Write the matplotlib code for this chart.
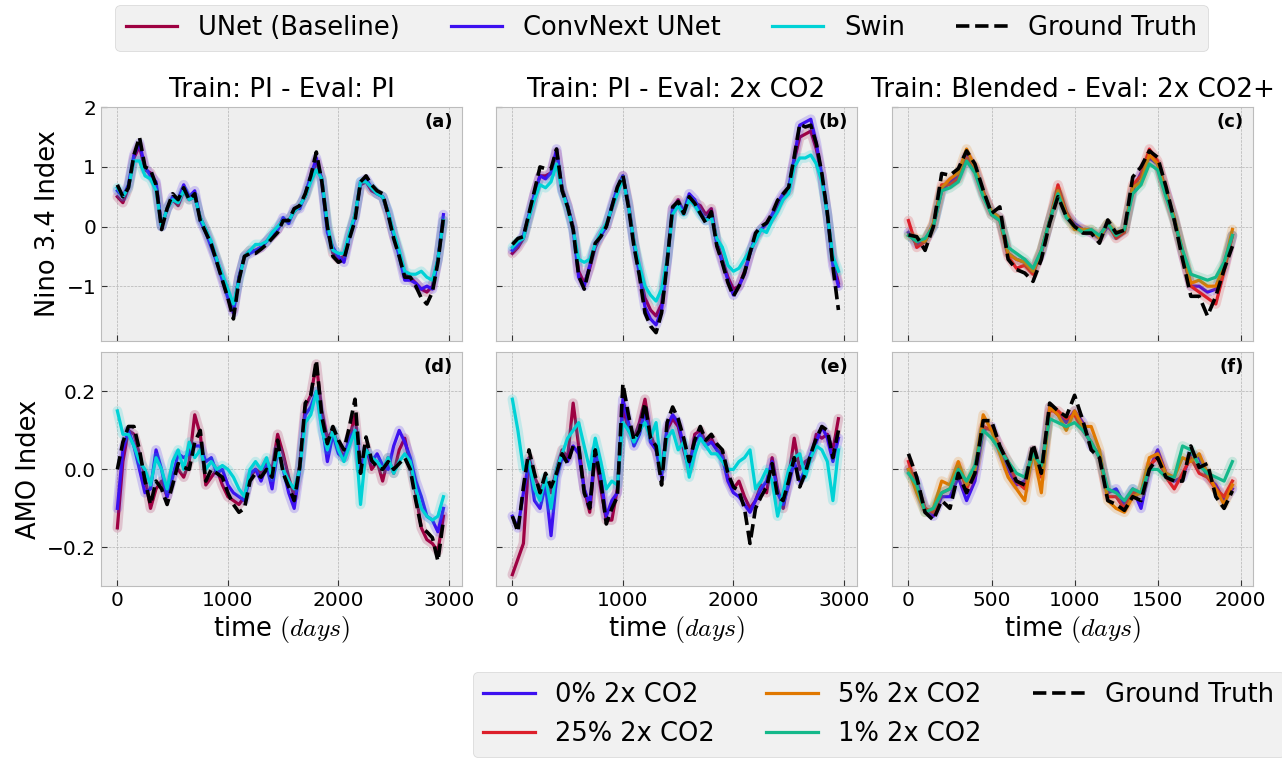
import numpy as np
import matplotlib.pyplot as plt
from matplotlib.lines import Line2D

plt.style.use('bmh')

# time axis (days)
t_pi = np.arange(0, 3000, 50)
t_bl = np.arange(0, 2000, 50)

# ---- Nino 3.4, Train PI / Eval PI (a)
gt_a = [0.70, 0.50, 0.65, 1.20, 1.50, 1.00, 0.95, 0.70, -0.05, 0.30,
        0.55, 0.45, 0.65, 0.45, 0.55, 0.10, -0.10, -0.30, -0.60, -0.90,
        -1.20, -1.55, -0.90, -0.50, -0.45, -0.45, -0.38, -0.30, -0.20, -0.10,
        0.10, 0.10, 0.30, 0.35, 0.55, 0.85, 1.25, 0.75, 0.00, -0.50,
        -0.60, -0.55, -0.20, 0.10, 0.75, 0.85, 0.70, 0.60, 0.55, 0.20,
        -0.20, -0.50, -0.85, -0.85, -1.00, -1.20, -1.30, -1.10, -0.60, 0.15]
unet_a = [0.50, 0.40, 0.65, 1.15, 1.35, 0.95, 0.90, 0.70, 0.00, 0.30,
          0.45, 0.35, 0.60, 0.45, 0.50, 0.15, -0.05, -0.30, -0.55, -0.85,
          -1.10, -1.40, -0.85, -0.50, -0.40, -0.40, -0.35, -0.25, -0.15, -0.05,
          0.10, 0.10, 0.25, 0.35, 0.50, 0.80, 1.10, 0.80, 0.00, -0.45,
          -0.55, -0.50, -0.15, 0.20, 0.70, 0.75, 0.60, 0.55, 0.50, 0.20,
          -0.15, -0.45, -0.80, -0.85, -0.95, -1.05, -1.10, -1.00, -0.55, 0.10]
conv_a = [0.60, 0.50, 0.70, 1.20, 1.40, 1.00, 0.85, 0.75, 0.00, 0.30,
          0.50, 0.45, 0.70, 0.50, 0.60, 0.10, -0.10, -0.35, -0.60, -0.90,
          -1.20, -1.45, -0.85, -0.50, -0.45, -0.40, -0.35, -0.25, -0.15, -0.05,
          0.15, 0.05, 0.30, 0.30, 0.55, 0.85, 1.15, 0.75, -0.10, -0.35,
          -0.50, -0.60, -0.15, 0.15, 0.75, 0.80, 0.65, 0.55, 0.50, 0.25,
          -0.15, -0.50, -0.90, -0.90, -0.95, -1.05, -1.00, -1.05, -0.55, 0.20]
swin_a = [0.65, 0.50, 0.65, 1.10, 1.10, 0.85, 0.80, 0.60, 0.00, 0.30,
          0.45, 0.40, 0.60, 0.45, 0.50, 0.15, -0.05, -0.25, -0.55, -0.80,
          -1.05, -1.30, -0.90, -0.50, -0.40, -0.30, -0.30, -0.25, -0.10, 0.00,
          0.10, 0.10, 0.25, 0.35, 0.50, 0.75, 0.95, 0.80, 0.05, -0.40,
          -0.45, -0.45, -0.10, 0.20, 0.75, 0.75, 0.65, 0.55, 0.50, 0.25,
          -0.10, -0.40, -0.75, -0.80, -0.80, -0.75, -0.85, -0.90, -0.55, 0.10]

# ---- Nino 3.4, Train PI / Eval 2x CO2 (b)
gt_b = [-0.30, -0.20, -0.17, 0.22, 0.60, 1.00, 0.97, 0.97, 1.30, 0.60,
        0.33, -0.05, -0.83, -1.05, -0.67, -0.28, -0.17, 0.00, 0.33, 0.66,
        0.86, 0.33, -0.33, -0.83, -1.45, -1.67, -1.78, -1.45, -0.61, 0.33,
        0.42, 0.22, 0.50, 0.39, 0.22, 0.06, 0.25, -0.33, -0.61, -0.94,
        -1.17, -1.00, -0.78, -0.44, -0.11, 0.00, 0.06, 0.22, 0.44, 0.55,
        0.66, 1.17, 1.72, 1.67, 1.70, 1.39, 0.89, 0.22, -0.67, -1.40]
unet_b = [-0.45, -0.35, -0.20, 0.15, 0.55, 0.85, 0.85, 0.90, 1.25, 0.65,
          0.35, 0.00, -0.75, -0.95, -0.70, -0.35, -0.15, 0.00, 0.30, 0.60,
          0.85, 0.40, -0.25, -0.75, -1.20, -1.40, -1.50, -1.30, -0.55, 0.30,
          0.45, 0.25, 0.45, 0.40, 0.35, 0.20, 0.30, -0.25, -0.55, -0.85,
          -1.05, -1.00, -0.75, -0.45, -0.20, -0.05, 0.05, 0.15, 0.35, 0.50,
          0.60, 1.10, 1.50, 1.55, 1.60, 1.30, 0.85, 0.20, -0.55, -0.95]
conv_b = [-0.40, -0.30, -0.15, 0.20, 0.55, 0.85, 0.80, 0.90, 1.30, 0.60,
          0.35, -0.05, -0.85, -1.00, -0.65, -0.30, -0.15, 0.00, 0.35, 0.65,
          0.85, 0.35, -0.30, -0.80, -1.35, -1.55, -1.65, -1.40, -0.60, 0.30,
          0.40, 0.25, 0.55, 0.45, 0.25, 0.10, 0.25, -0.30, -0.60, -0.90,
          -1.15, -1.00, -0.80, -0.45, -0.15, -0.05, 0.05, 0.20, 0.40, 0.55,
          0.65, 1.15, 1.70, 1.75, 1.80, 1.40, 0.85, 0.20, -0.65, -1.00]
swin_b = [-0.35, -0.25, -0.20, 0.15, 0.45, 0.70, 0.65, 0.75, 1.05, 0.60,
          0.30, -0.05, -0.55, -0.60, -0.55, -0.30, -0.10, 0.05, 0.30, 0.55,
          0.80, 0.35, -0.25, -0.65, -1.00, -1.15, -1.25, -1.05, -0.55, 0.20,
          0.35, 0.20, 0.45, 0.35, 0.20, 0.10, 0.15, -0.20, -0.35, -0.65,
          -0.75, -0.70, -0.55, -0.40, -0.25, -0.05, -0.10, 0.10, 0.25, 0.45,
          0.55, 1.00, 1.15, 1.15, 1.20, 1.05, 0.75, 0.20, -0.50, -0.75]

# ---- Nino 3.4, Train Blended / Eval 2x CO2+ (c)
gt_c = [-0.14, -0.17, -0.40, 0.00, 0.89, 0.86, 0.97, 1.27, 1.05, 0.61,
        0.22, 0.33, -0.55, -0.72, -0.78, -0.92, -0.55, 0.06, 0.50, 0.17,
        0.00, -0.11, -0.11, -0.28, 0.11, -0.11, -0.06, 0.83, 1.00, 1.27,
        1.16, 0.67, 0.11, -0.55, -1.17, -1.17, -1.50, -1.17, -0.72, -0.33]
p0_c = [-0.10, -0.30, -0.25, 0.00, 0.60, 0.75, 0.85, 1.20, 0.95, 0.55,
        0.25, 0.15, -0.45, -0.55, -0.60, -0.75, -0.45, 0.10, 0.55, 0.20,
        0.05, -0.05, -0.10, -0.20, 0.00, -0.15, -0.05, 0.60, 0.90, 1.15,
        1.05, 0.60, 0.15, -0.45, -1.00, -1.00, -1.10, -1.05, -0.70, -0.15]
p25_c = [0.10, -0.35, -0.25, 0.05, 0.70, 0.70, 0.80, 1.15, 1.00, 0.60,
         0.20, 0.10, -0.50, -0.70, -0.65, -0.80, -0.40, 0.10, 0.70, 0.25,
         0.00, -0.05, -0.10, -0.15, 0.05, -0.20, -0.10, 0.70, 0.85, 1.30,
         1.10, 0.60, 0.10, -0.45, -1.00, -1.10, -1.20, -1.30, -0.75, -0.15]
p5_c = [-0.15, -0.20, -0.25, 0.05, 0.65, 0.80, 0.90, 1.30, 1.00, 0.55,
        0.25, 0.15, -0.45, -0.55, -0.60, -0.75, -0.40, 0.10, 0.60, 0.20,
        -0.05, -0.05, -0.05, -0.20, 0.05, -0.10, -0.05, 0.65, 0.75, 1.20,
        1.05, 0.55, 0.15, -0.40, -0.95, -0.90, -1.00, -1.00, -0.65, -0.05]
p1_c = [-0.15, -0.25, -0.20, 0.00, 0.60, 0.65, 0.75, 1.10, 0.90, 0.50,
        0.20, 0.10, -0.35, -0.45, -0.55, -0.70, -0.40, 0.10, 0.55, 0.15,
        0.00, -0.10, -0.05, -0.15, 0.05, -0.15, -0.05, 0.55, 0.70, 1.05,
        0.95, 0.50, 0.10, -0.40, -0.80, -0.85, -0.90, -0.85, -0.60, -0.15]

# ---- AMO, Train PI / Eval PI (d)
gt_d = [0.00, 0.07, 0.11, 0.11, 0.05, -0.03, -0.09, -0.03, -0.05, -0.09,
        -0.04, 0.015, 0.005, 0.00, 0.07, 0.10, -0.03, 0.00, -0.01, -0.02,
        -0.06, -0.09, -0.11, -0.10, -0.03, -0.01, -0.02, 0.00, -0.02, 0.075,
        -0.01, -0.045, -0.08, 0.006, 0.17, 0.19, 0.28, 0.135, 0.066, 0.11,
        0.075, 0.05, 0.11, 0.18, -0.01, 0.083, 0.023, 0.006, 0.00, 0.02,
        0.00, 0.015, 0.03, 0.00, -0.08, -0.15, -0.16, -0.175, -0.235, -0.13]
unet_d = [-0.15, 0.02, 0.10, 0.09, 0.04, -0.02, -0.10, -0.05, -0.03, -0.07,
          -0.01, 0.00, -0.02, 0.02, 0.14, 0.09, -0.04, -0.02, 0.00, -0.04,
          -0.07, -0.08, -0.09, -0.07, -0.02, 0.00, -0.01, 0.02, 0.00, 0.09,
          0.04, -0.02, -0.07, 0.01, 0.16, 0.19, 0.27, 0.15, 0.08, 0.10,
          0.06, 0.03, 0.08, 0.14, 0.00, 0.06, 0.00, 0.02, -0.03, 0.03,
          -0.01, 0.05, 0.08, 0.01, -0.06, -0.15, -0.18, -0.19, -0.21, -0.12]
conv_d = [-0.10, 0.05, 0.10, 0.06, 0.00, -0.06, -0.05, 0.05, 0.00, -0.07,
          -0.02, 0.04, 0.03, 0.04, 0.06, 0.06, 0.02, 0.03, -0.01, 0.00,
          -0.04, -0.06, -0.07, -0.08, -0.01, 0.00, -0.03, 0.01, -0.05, 0.05,
          0.00, -0.06, -0.10, 0.00, 0.14, 0.16, 0.20, 0.12, 0.02, 0.09,
          0.04, 0.03, 0.08, 0.10, 0.00, 0.05, 0.02, 0.04, 0.01, 0.00,
          0.06, 0.10, 0.07, 0.03, -0.03, -0.07, -0.12, -0.13, -0.16, -0.10]
swin_d = [0.15, 0.09, 0.09, 0.06, 0.02, 0.00, -0.04, 0.03, 0.00, -0.05,
          0.02, 0.05, 0.00, 0.07, 0.03, 0.05, 0.00, 0.02, 0.00, 0.01,
          0.00, -0.02, -0.05, -0.07, 0.00, 0.02, 0.00, 0.03, -0.02, 0.05,
          0.00, -0.03, -0.05, 0.00, 0.12, 0.14, 0.20, 0.10, 0.05, 0.10,
          0.05, 0.02, 0.06, 0.10, -0.09, 0.05, 0.03, 0.02, 0.00, 0.03,
          -0.01, 0.02, 0.04, 0.02, -0.05, -0.10, -0.12, -0.13, -0.12, -0.07]

# ---- AMO, Train PI / Eval 2x CO2 (e)
gt_e = [-0.12, -0.16, -0.045, 0.05, -0.01, -0.06, -0.01, -0.045, -0.01, 0.04,
        0.015, 0.06, 0.06, -0.06, -0.10, 0.05, -0.03, -0.14, -0.10, -0.07,
        0.22, 0.14, 0.075, 0.10, 0.17, 0.08, 0.06, -0.04, 0.12, 0.16,
        0.13, 0.08, 0.02, 0.075, 0.11, 0.075, 0.09, 0.065, 0.05, -0.01,
        -0.045, -0.055, -0.10, -0.19, -0.10, -0.07, -0.045, 0.015, -0.07, -0.08,
        -0.03, 0.03, -0.045, -0.01, 0.04, 0.08, 0.11, 0.10, 0.03, 0.10]
unet_e = [-0.27, -0.23, -0.19, 0.03, -0.02, -0.05, -0.03, -0.06, 0.00, 0.05,
          0.03, 0.17, 0.06, -0.05, -0.11, 0.04, -0.05, -0.13, -0.13, -0.05,
          0.16, 0.10, 0.08, 0.12, 0.18, 0.09, 0.05, 0.00, 0.10, 0.13,
          0.11, 0.05, 0.00, 0.09, 0.10, 0.07, 0.08, 0.05, 0.04, -0.02,
          -0.05, -0.03, -0.07, -0.10, -0.08, -0.04, -0.06, 0.03, -0.05, -0.10,
          -0.02, 0.08, 0.00, 0.02, 0.03, 0.09, 0.08, 0.09, 0.05, 0.13]
conv_e = [-0.12, -0.15, -0.06, 0.02, -0.08, -0.10, -0.04, -0.17, -0.02, 0.03,
          0.02, 0.06, 0.04, -0.05, -0.09, 0.05, -0.02, -0.12, -0.08, -0.06,
          0.18, 0.12, 0.06, 0.09, 0.15, 0.07, 0.05, -0.02, 0.11, 0.14,
          0.12, 0.06, 0.01, 0.07, 0.09, 0.06, 0.07, 0.05, 0.03, -0.03,
          -0.06, -0.07, -0.09, -0.11, -0.08, -0.05, -0.03, 0.02, -0.06, -0.09,
          -0.04, 0.02, -0.03, 0.00, 0.04, 0.07, 0.11, 0.08, 0.02, 0.08]
swin_e = [0.18, 0.10, 0.00, 0.02, -0.05, -0.08, -0.02, -0.10, 0.00, 0.04,
          0.08, 0.10, 0.12, 0.06, 0.00, 0.08, 0.02, -0.05, -0.03, -0.04,
          0.12, 0.10, 0.07, 0.10, 0.12, 0.08, 0.12, 0.00, 0.08, 0.10,
          0.05, 0.07, -0.02, 0.04, 0.08, 0.06, 0.04, 0.04, 0.02, 0.00,
          0.00, 0.02, 0.03, 0.05, -0.05, -0.03, 0.00, -0.03, -0.12, -0.06,
          0.00, 0.03, 0.04, -0.02, 0.03, 0.06, 0.05, 0.02, -0.08, 0.05]

# ---- AMO, Train Blended / Eval 2x CO2+ (f)
gt_f = [0.04, -0.02, -0.11, -0.13, -0.08, -0.10, -0.01, -0.06, -0.01, 0.125,
        0.125, 0.06, 0.015, -0.03, -0.04, 0.065, -0.01, 0.17, 0.15, 0.135,
        0.19, 0.125, 0.05, 0.03, -0.08, -0.09, -0.105, -0.07, -0.08, 0.00,
        0.03, -0.02, -0.03, -0.03, 0.06, 0.005, 0.015, -0.07, -0.10, -0.055]
p0_f = [0.00, -0.03, -0.10, -0.12, -0.07, -0.07, -0.02, -0.08, -0.03, 0.10,
        0.11, 0.05, 0.00, -0.04, -0.03, 0.05, 0.00, 0.16, 0.14, 0.12,
        0.15, 0.12, 0.06, 0.04, -0.06, -0.05, -0.09, -0.05, -0.10, 0.00,
        0.05, -0.01, -0.03, -0.02, 0.04, 0.03, -0.02, -0.04, -0.08, -0.05]
p25_f = [0.02, -0.05, -0.10, -0.11, -0.06, -0.05, 0.01, -0.05, 0.00, 0.11,
         0.10, 0.06, 0.02, -0.03, -0.05, 0.04, -0.02, 0.15, 0.15, 0.13,
         0.14, 0.10, 0.07, 0.03, -0.07, -0.07, -0.10, -0.06, -0.06, 0.01,
         0.03, -0.02, -0.05, -0.01, 0.03, -0.01, -0.02, -0.05, -0.07, -0.03]
p5_f = [0.00, -0.06, -0.11, -0.10, -0.03, -0.04, 0.02, -0.04, 0.00, 0.14,
        0.10, 0.04, -0.02, -0.05, -0.08, 0.05, -0.06, 0.16, 0.14, 0.10,
        0.15, 0.11, 0.11, 0.05, -0.08, -0.10, -0.11, -0.07, -0.06, 0.03,
        0.04, -0.01, -0.02, 0.03, 0.02, 0.04, -0.01, -0.05, -0.09, -0.04]
p1_f = [-0.01, -0.04, -0.11, -0.10, -0.06, -0.05, 0.00, -0.03, 0.01, 0.10,
        0.08, 0.05, 0.02, -0.01, -0.02, 0.04, 0.01, 0.13, 0.12, 0.11,
        0.12, 0.10, 0.07, 0.03, -0.05, -0.06, -0.08, -0.05, -0.06, 0.00,
        0.00, -0.02, -0.02, 0.06, 0.05, 0.01, -0.01, -0.02, -0.03, 0.02]

titles = ["Train: PI - Eval: PI", "Train: PI - Eval: 2x CO2", "Train: Blended - Eval: 2x CO2+"]
letters = ["(a)", "(b)", "(c)", "(d)", "(e)", "(f)"]

model_names = ["UNet (Baseline)", "ConvNext UNet", "Swin"]
model_colors = ["#9e0142", "#3c10f0", "#00d2d6"]
blend_names = ["0% 2x CO2", "25% 2x CO2", "5% 2x CO2", "1% 2x CO2"]
blend_colors = ["#3c10f0", "#dc1f2a", "#e07800", "#14b88a"]

fig = plt.figure(figsize=(12.82, 7.59), dpi=100)
W, H = 1282, 759
lefts = [101, 496, 892]
tops = [107, 352]
aw, ah = 361, 234

panels = [
    (t_pi, [unet_a, conv_a, swin_a], gt_a, model_colors),
    (t_pi, [unet_b, conv_b, swin_b], gt_b, model_colors),
    (t_bl, [p0_c, p25_c, p5_c, p1_c], gt_c, blend_colors),
    (t_pi, [unet_d, conv_d, swin_d], gt_d, model_colors),
    (t_pi, [unet_e, conv_e, swin_e], gt_e, model_colors),
    (t_bl, [p0_f, p25_f, p5_f, p1_f], gt_f, blend_colors),
]

for i, (t, series, gt, cols) in enumerate(panels):
    r, c = divmod(i, 3)
    ax = fig.add_axes([lefts[c] / W, 1 - (tops[r] + ah) / H, aw / W, ah / H])
    for s, col in zip(series, cols):
        ax.plot(t, s, color=col, lw=7, alpha=0.18, solid_capstyle='round')
        ax.plot(t, s, color=col, lw=2.3)
    ax.plot(t, gt, color='black', lw=2.6, ls='--')

    if c == 2:
        ax.set_xlim(-99, 2074)
        ax.set_xticks([0, 500, 1000, 1500, 2000])
    else:
        ax.set_xlim(-148, 3118)
        ax.set_xticks([0, 1000, 2000, 3000])
    if r == 0:
        ax.set_ylim(-1.92, 2.005)
        ax.set_yticks([-1, 0, 1, 2])
        ax.set_title(titles[c], fontsize=18.8, pad=7)
        ax.tick_params(labelbottom=False)
    else:
        ax.set_ylim(-0.299, 0.301)
        ax.set_yticks([-0.2, 0.0, 0.2])
        ax.set_xlabel(r"time $(days)$", fontsize=18.5, labelpad=3)
    if c > 0:
        ax.tick_params(labelleft=False)
    if c == 0:
        ax.set_ylabel("Nino 3.4 Index" if r == 0 else "AMO Index", fontsize=18.5)
    ax.tick_params(direction='in', labelsize=14.5, length=4, color='#333333')
    ax.text(0.975, 0.975, letters[i], transform=ax.transAxes, ha='right', va='top',
            fontsize=13, fontweight='bold')

top_handles = [Line2D([], [], color=cl, lw=2.3) for cl in model_colors]
top_handles.append(Line2D([], [], color='black', lw=2.6, ls='--'))
fig.legend(top_handles, model_names + ["Ground Truth"], loc='upper center',
           bbox_to_anchor=(0.516, 0.994), borderaxespad=0, ncol=4, fontsize=18.5,
           columnspacing=2.0)

bot_handles = [Line2D([], [], color=cl, lw=2.3) for cl in blend_colors]
bot_handles.append(Line2D([], [], color='black', lw=2.6, ls='--'))
fig.legend(bot_handles, blend_names + ["Ground Truth"], loc='lower left',
           bbox_to_anchor=(473 / W, 2 / H), borderaxespad=0, ncol=3, fontsize=18.5,
           columnspacing=2.0)

fig.savefig("out.png", dpi=100)
